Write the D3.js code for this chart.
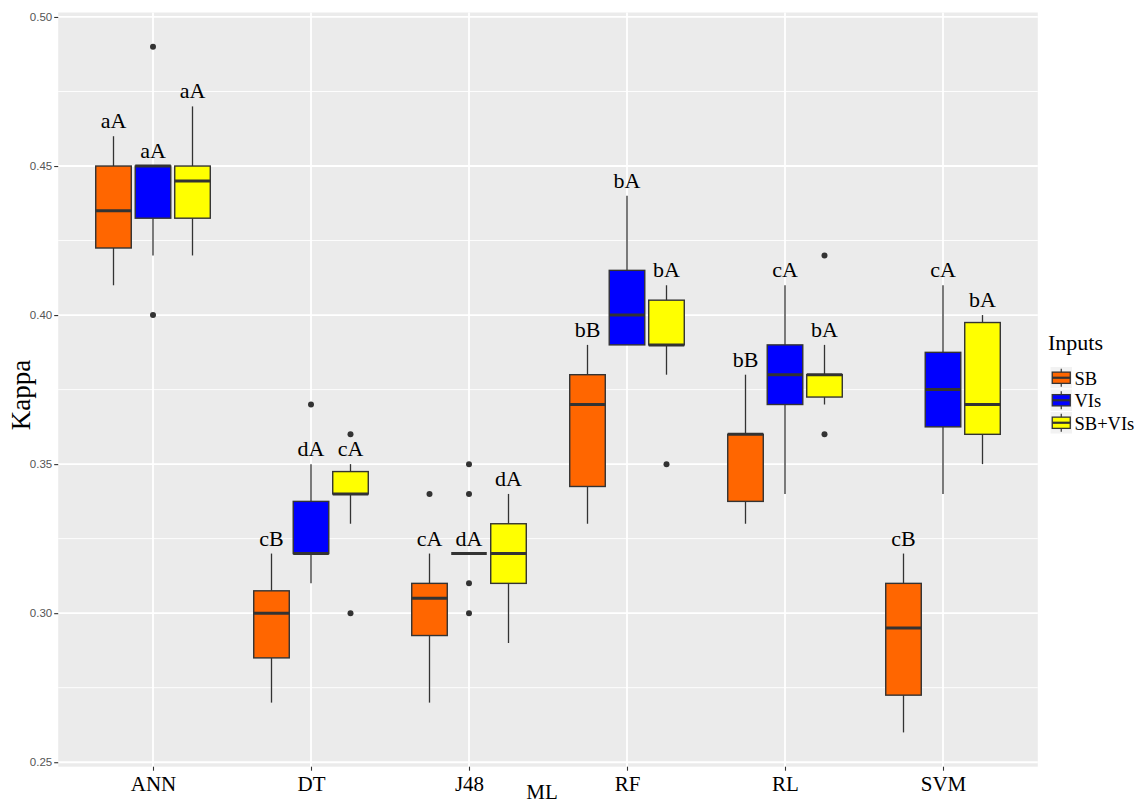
<!DOCTYPE html>
<html>
<head>
<meta charset="utf-8">
<script src="https://cdn.jsdelivr.net/npm/d3@7"></script>
<style>
  html, body { margin: 0; padding: 0; background: #ffffff; }
  svg { display: block; }
</style>
</head>
<body>
<svg id="chart" width="1138" height="805"></svg>
<script>
// Machine-learning methods on the x axis
const categories = ["ANN", "DT", "J48", "RF", "RL", "SVM"];
// Input sets (dodged boxes within each method)
const inputs = ["SB", "VIs", "SB+VIs"];
const inputColors = ["#ff6600", "#0000ff", "#ffff00"];

// Box summaries per method: [lower whisker, Q1, median, Q3, upper whisker]
const sbStats = [
  [0.41, 0.4225, 0.435, 0.45, 0.46],
  [0.27, 0.285, 0.30, 0.3075, 0.32],
  [0.27, 0.2925, 0.305, 0.31, 0.32],
  [0.33, 0.3425, 0.37, 0.38, 0.39],
  [0.33, 0.3375, 0.36, 0.36, 0.38],
  [0.26, 0.2725, 0.295, 0.31, 0.32]
];
const visStats = [
  [0.42, 0.4325, 0.45, 0.45, 0.45],
  [0.31, 0.32, 0.32, 0.3375, 0.35],
  [0.32, 0.32, 0.32, 0.32, 0.32],
  [0.39, 0.39, 0.40, 0.415, 0.44],
  [0.34, 0.37, 0.38, 0.39, 0.41],
  [0.34, 0.3625, 0.375, 0.3875, 0.41]
];
const sbVisStats = [
  [0.42, 0.4325, 0.445, 0.45, 0.47],
  [0.33, 0.34, 0.34, 0.3475, 0.35],
  [0.29, 0.31, 0.32, 0.33, 0.34],
  [0.38, 0.39, 0.39, 0.405, 0.41],
  [0.37, 0.3725, 0.38, 0.38, 0.39],
  [0.35, 0.36, 0.37, 0.3975, 0.40]
];

// Outlying observations per method
const sbOutliers = [[], [], [0.34], [], [], []];
const visOutliers = [[0.49, 0.40], [0.37], [0.35, 0.34, 0.31, 0.30], [], [], []];
const sbVisOutliers = [[], [0.36, 0.30], [], [0.35], [0.42, 0.36], []];

// Significance letters placed above each box
const sbLetters = ["aA", "cB", "cA", "bB", "bB", "cB"];
const visLetters = ["aA", "dA", "dA", "bA", "cA", "cA"];
const sbVisLetters = ["aA", "cA", "dA", "bA", "bA", "bA"];

// Axis ticks
const yMajorTicks = [0.25, 0.30, 0.35, 0.40, 0.45, 0.50];
const yMinorTicks = [0.275, 0.325, 0.375, 0.425, 0.475];

const stats = [sbStats, visStats, sbVisStats];
const outliers = [sbOutliers, visOutliers, sbVisOutliers];
const letters = [sbLetters, visLetters, sbVisLetters];

const svg = d3.select("#chart");
const serif = "'Liberation Serif', 'Times New Roman', serif";
const sans = "'Liberation Sans', Arial, sans-serif";

// Scales
const x = d3.scalePoint().domain(categories).range([153, 943]);
const step = x.step();
const panelLeft = x(categories[0]) - 0.6 * step;
const panelRight = x(categories[categories.length - 1]) + 0.6 * step;
const y = d3.scaleLinear().domain([0.2485, 0.5015]).range([766.7, 12.5]);
const panelTop = y(0.5015), panelBottom = y(0.2485);

const dodge = d3.scaleBand().domain(inputs).range([-0.375 * step, 0.375 * step]);
const boxW = dodge.bandwidth() * 0.9;
const cx = (ci, ii) => x(categories[ci]) + dodge(inputs[ii]) + dodge.bandwidth() / 2;

// Panel background
svg.append("rect")
  .attr("x", panelLeft).attr("y", panelTop)
  .attr("width", panelRight - panelLeft).attr("height", panelBottom - panelTop)
  .attr("fill", "#ebebeb");

// Grid lines
const grid = svg.append("g");
grid.selectAll(".minor").data(yMinorTicks).enter().append("line")
  .attr("x1", panelLeft).attr("x2", panelRight)
  .attr("y1", d => y(d)).attr("y2", d => y(d))
  .attr("stroke", "#ffffff").attr("stroke-width", 0.9);
grid.selectAll(".major").data(yMajorTicks).enter().append("line")
  .attr("x1", panelLeft).attr("x2", panelRight)
  .attr("y1", d => y(d)).attr("y2", d => y(d))
  .attr("stroke", "#ffffff").attr("stroke-width", 1.8);
grid.selectAll(".vmajor").data(categories).enter().append("line")
  .attr("x1", d => x(d)).attr("x2", d => x(d))
  .attr("y1", panelTop).attr("y2", panelBottom)
  .attr("stroke", "#ffffff").attr("stroke-width", 1.8);

// Y axis
const yAxis = svg.append("g")
  .attr("transform", `translate(${panelLeft},0)`)
  .call(d3.axisLeft(y).tickValues(yMajorTicks).tickFormat(d3.format(".2f")).tickSize(4).tickPadding(2));
yAxis.select(".domain").remove();
yAxis.selectAll(".tick line").attr("stroke", "#333333").attr("stroke-width", 1.1);
yAxis.selectAll(".tick text")
  .attr("font-family", sans).attr("font-size", 11.5).attr("fill", "#555555");

// X axis
const xAxis = svg.append("g")
  .attr("transform", `translate(0,${panelBottom})`)
  .call(d3.axisBottom(x).tickSize(4).tickPadding(4));
xAxis.select(".domain").remove();
xAxis.selectAll(".tick line").attr("stroke", "#333333").attr("stroke-width", 1.1);
xAxis.selectAll(".tick text")
  .attr("font-family", serif).attr("font-size", 21).attr("fill", "#000000")
  .attr("dy", "0.8em");

// Axis titles
svg.append("text")
  .attr("x", (panelLeft + panelRight) / 2 - 6).attr("y", 799)
  .attr("text-anchor", "middle")
  .attr("font-family", serif).attr("font-size", 21)
  .text("ML");
svg.append("text")
  .attr("transform", `translate(30,395) rotate(-90)`)
  .attr("text-anchor", "middle")
  .attr("font-family", serif).attr("font-size", 27)
  .text("Kappa");

// Boxplots
const lineCol = "#333333";
const boxes = svg.append("g");
stats.forEach((series, ii) => {
  series.forEach((s, ci) => {
    const [lo, q1, med, q3, hi] = s;
    const c = cx(ci, ii);
    const g = boxes.append("g");
    // whiskers
    g.append("line").attr("x1", c).attr("x2", c)
      .attr("y1", y(hi)).attr("y2", y(q3))
      .attr("stroke", lineCol).attr("stroke-width", 1.3);
    g.append("line").attr("x1", c).attr("x2", c)
      .attr("y1", y(q1)).attr("y2", y(lo))
      .attr("stroke", lineCol).attr("stroke-width", 1.3);
    // box
    g.append("rect")
      .attr("x", c - boxW / 2).attr("y", y(q3))
      .attr("width", boxW).attr("height", Math.max(0, y(q1) - y(q3)))
      .attr("fill", inputColors[ii])
      .attr("stroke", lineCol).attr("stroke-width", 1.4);
    // median
    g.append("line")
      .attr("x1", c - boxW / 2).attr("x2", c + boxW / 2)
      .attr("y1", y(med)).attr("y2", y(med))
      .attr("stroke", lineCol).attr("stroke-width", 3);
    // outliers
    g.selectAll("circle").data(outliers[ii][ci]).enter().append("circle")
      .attr("cx", c).attr("cy", d => y(d)).attr("r", 3)
      .attr("fill", lineCol);
    // letters
    g.append("text")
      .attr("x", c).attr("y", y(hi) - 8)
      .attr("text-anchor", "middle")
      .attr("font-family", serif).attr("font-size", 22)
      .attr("fill", "#000000")
      .text(letters[ii][ci]);
  });
});

// Legend
const legend = svg.append("g");
legend.append("text")
  .attr("x", 1048).attr("y", 350)
  .attr("font-family", serif).attr("font-size", 22)
  .text("Inputs");
const keySize = 22.5;
inputs.forEach((name, i) => {
  const top = 366.5 + i * keySize;
  const kx = 1050;
  const g = legend.append("g");
  g.append("rect").attr("x", kx).attr("y", top)
    .attr("width", keySize).attr("height", keySize)
    .attr("fill", "#f2f2f2").attr("stroke", "#ffffff").attr("stroke-width", 1);
  const mid = kx + keySize / 2;
  g.append("line").attr("x1", mid).attr("x2", mid)
    .attr("y1", top + keySize * 0.1).attr("y2", top + keySize * 0.9)
    .attr("stroke", lineCol).attr("stroke-width", 1.2);
  g.append("rect")
    .attr("x", kx + keySize * 0.1).attr("y", top + keySize * 0.25)
    .attr("width", keySize * 0.8).attr("height", keySize * 0.5)
    .attr("fill", inputColors[i]).attr("stroke", lineCol).attr("stroke-width", 1.3);
  g.append("line")
    .attr("x1", kx + keySize * 0.1).attr("x2", kx + keySize * 0.9)
    .attr("y1", top + keySize / 2).attr("y2", top + keySize / 2)
    .attr("stroke", lineCol).attr("stroke-width", 2.2);
  g.append("text")
    .attr("x", kx + keySize + 2).attr("y", top + keySize / 2 + 7)
    .attr("font-family", serif).attr("font-size", 18.5)
    .text(name);
});
</script>
</body>
</html>
